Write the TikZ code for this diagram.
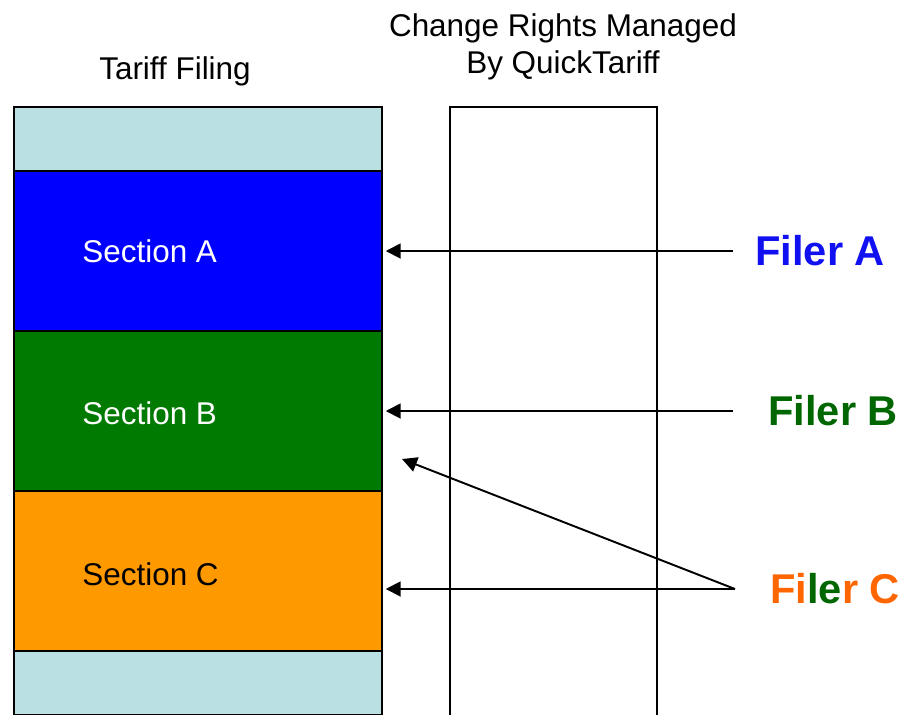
\documentclass[tikz,border=0pt]{standalone}
\usepackage{fontspec}
\setmainfont{Liberation Sans}
\usetikzlibrary{positioning,arrows.meta}
\definecolor{colorcap}   {RGB}{187,224,227}
\definecolor{colorseca}  {RGB}{0  ,0  ,255}
\definecolor{colorsecb}  {RGB}{0  ,122,0  }
\definecolor{colorsecc}  {RGB}{255,153,0  }
\definecolor{colorfilera}{RGB}{16 ,16 ,240}
\definecolor{colorfilerb}{RGB}{0  ,102,0  }
\definecolor{colorfilerc}{RGB}{255,102,0  }

\begin{document}
\begin{tikzpicture}[
    x=0.02cm, y=-0.02cm,
    font={\fontsize{17.9}{21}\selectfont},
    title/.style={text=black,align=center},
    band/.style={draw,line width=1.3pt,minimum width=7.36cm,inner sep=0pt},
    section/.style={anchor=west,inner sep=0pt},
    filer/.style={anchor=west,inner sep=0pt,font={\fontsize{23.7}{28}\selectfont\bfseries}},
    arr/.style={line width=1.1pt,-{Triangle[length=8.5pt,width=8.5pt]}},
]
    \useasboundingbox (0,0) rectangle (905,714);

    \node[title] (filing) at (175,71) {Tariff Filing};
    \node[title] (rightstitle) at (563,47) {Change Rights Managed\\By QuickTariff};

    \node[draw,line width=0.9pt,minimum width=4.14cm,minimum height=12.66cm] (rights) at (553.5,423.5) {};

    \node[band,fill=colorcap,minimum height=1.28cm] (captop) at (198,139) {};
    \node[band,fill=colorseca,minimum height=3.2cm] (secA) at (198,251) {};
    \node[band,fill=colorsecb,minimum height=3.2cm] (secB) at (198,411) {};
    \node[band,fill=colorsecc,minimum height=3.2cm] (secC) at (198,571) {};
    \node[band,fill=colorcap,minimum height=1.28cm] (capbot) at (198,683) {};

    \node[section,text=white] (labA) at (82,251) {Section A};
    \node[section,text=white] (labB) at (82,413) {Section B};
    \node[section,text=black] (labC) at (82,574) {Section C};

    \node[filer,text=colorfilera] (filerA) at (755,251) {Filer A};
    \node[filer,text=colorfilerb] (filerB) at (768,411) {Filer B};
    \node[filer] (filerC) at (770,589) {{\color{colorfilerc}Fi}{\color{colorfilerb}le}{\color{colorfilerc}r C}};

    \coordinate (tipC) at (402,459);

    \draw[arr,shorten >=1.5pt] ([xshift=-0.44cm]filerA.west) -- (secA.east);
    \draw[arr,shorten >=1.5pt] ([xshift=-0.7cm]filerB.west) -- (secB.east);
    \draw[arr,shorten >=1.5pt] ([xshift=-0.7cm]filerC.west) -- (secC.east |- filerC.west);
    \draw[arr] ([xshift=-0.7cm]filerC.west) -- (tipC);

\end{tikzpicture}
\end{document}
